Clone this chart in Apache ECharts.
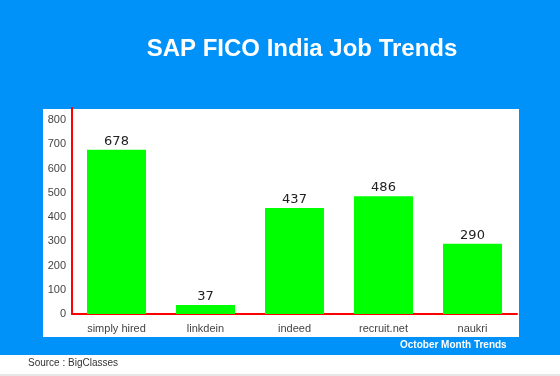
<!DOCTYPE html>
<html>
<head>
<meta charset="utf-8">
<script src="https://cdn.jsdelivr.net/npm/echarts@6/dist/echarts.min.js"></script>
<style>
html,body{margin:0;padding:0;background:#fff;}
#main{width:560px;height:376px;}
</style>
</head>
<body>
<div id="main"></div>
<script>
// job sites and October counts
var sites = ['simply hired', 'linkdein', 'indeed', 'recruit.net', 'naukri'];
var jobs = [678, 37, 437, 486, 290];

var option = {
    backgroundColor: '#0092f8',
    animation: false,
    title: {
        text: 'SAP FICO India Job Trends',
        left: 297,
        top: 32,
        textAlign: 'center',
        textStyle: {color: '#fff', fontSize: 24, fontWeight: 'bold', fontFamily: 'Liberation Sans, Arial'}
    },
    graphic: [
        {type: 'rect', shape: {x: 43, y: 109, width: 476, height: 228}, style: {fill: '#fff'}, z: -1},
        {type: 'rect', shape: {x: 0, y: 355, width: 560, height: 21}, style: {fill: '#fff'}, z: -1},
        {type: 'rect', shape: {x: 0, y: 374, width: 560, height: 2}, style: {fill: '#e6e6e6'}, z: -1},
        {type: 'text', left: 28, top: 358, style: {text: 'Source : BigClasses', fill: '#333', font: '10px Liberation Sans, Arial'}},
        {type: 'text', left: 400, top: 340, style: {text: 'October Month Trends', fill: '#fff', font: 'bold 10px Liberation Sans, Arial'}}
    ],
    grid: {left: 72, right: 43, top: 108, bottom: 62},
    xAxis: {
        type: 'category',
        data: sites,
        axisLine: {lineStyle: {color: '#ff0000', width: 2}},
        axisTick: {show: false},
        axisLabel: {color: '#444', fontSize: 11, margin: 9, fontFamily: 'Liberation Sans, Arial'}
    },
    yAxis: {
        type: 'value',
        min: 0,
        max: 850,
        interval: 100,
        splitLine: {show: false},
        axisTick: {show: false},
        axisLine: {show: true, lineStyle: {color: '#ff0000', width: 2}},
        axisLabel: {
            color: '#444', fontSize: 11, margin: 6, fontFamily: 'Liberation Sans, Arial',
            formatter: function (v) { return v % 100 === 0 ? v : ''; }
        }
    },
    series: [{
        type: 'bar',
        data: jobs,
        barWidth: 59,
        itemStyle: {color: '#00ff00'},
        label: {show: true, position: 'top', color: '#222', fontSize: 13, distance: 2, fontFamily: 'DejaVu Sans'}
    }]
};
var myChart = echarts.init(document.getElementById('main'));
myChart.setOption(option);
</script>
</body>
</html>
